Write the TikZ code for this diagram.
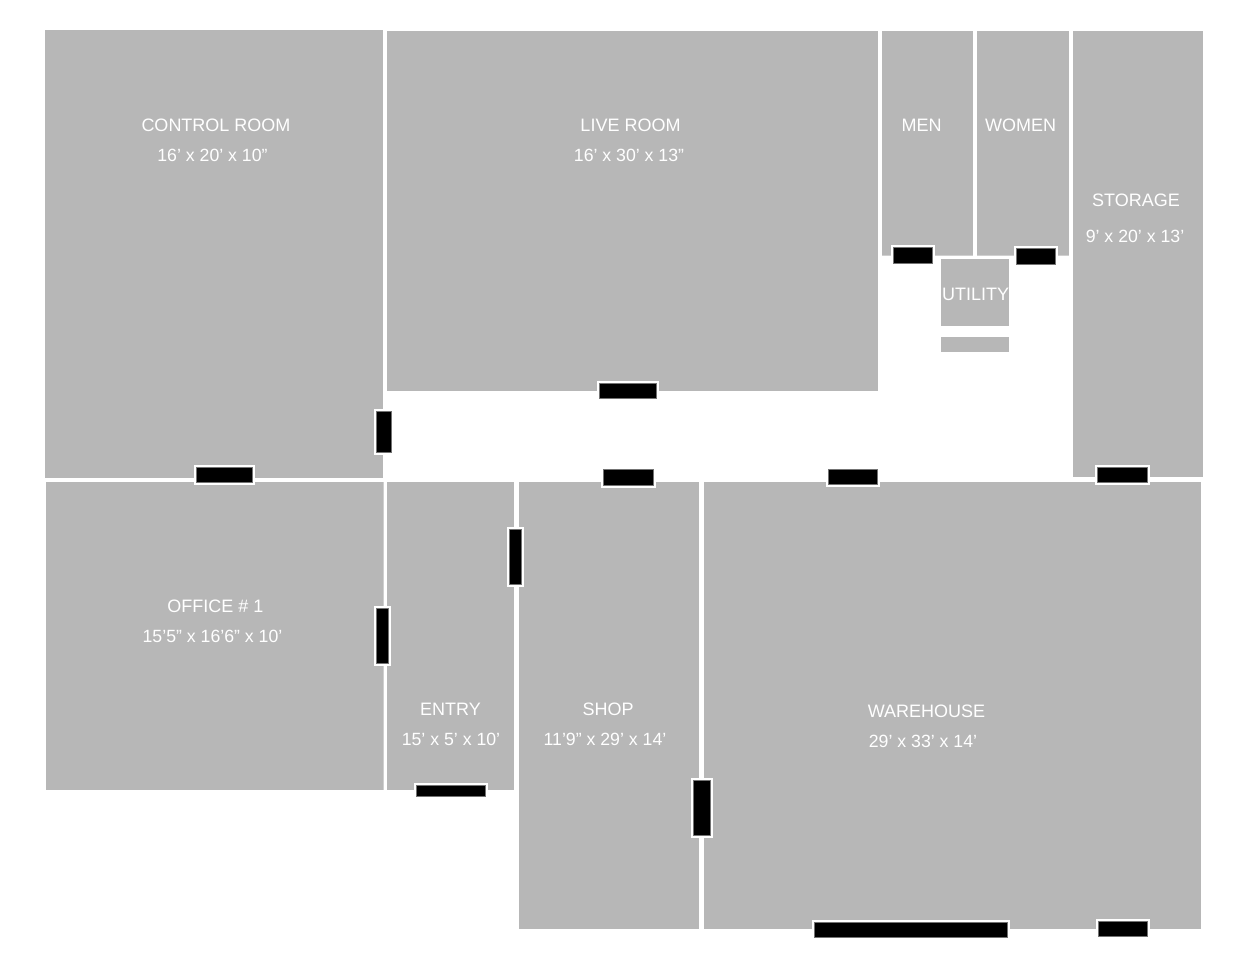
\documentclass[tikz,border=0pt]{standalone}
\usepackage{fontspec}
\setmainfont{Liberation Sans}
\definecolor{roomgray}{HTML}{B7B7B7}
\definecolor{seamgray}{HTML}{CFCFCF}
\tikzset{
  roomfill/.style={fill=roomgray,draw=none},
  seamfill/.style={fill=seamgray,draw=none},
  doorhalo/.style={fill=white,draw=none},
  doorbar/.style={fill=black,draw=black!55,line width=0.5pt},
  lbl/.style={text=white,font=\fontsize{18}{20}\selectfont,anchor=base,inner sep=0pt},
  dim/.style={text=white,font=\fontsize{17.7}{20}\selectfont,anchor=base,inner sep=0pt}
}
\newcommand{\doorbox}[4]{%
  \fill[doorhalo] (#1-3,#2-2.8) rectangle (#3+2,#4+2);
  \filldraw[doorbar] (#1-0.5,#2-0.4) rectangle (#3-0.5,#4-0.4);}
\begin{document}
\begin{tikzpicture}[x=1pt,y=-1pt]
\useasboundingbox (0,0) rectangle (1250,969);
\fill[white] (0,0) rectangle (1250,969);
% rooms
\fill[roomfill] (45,30) rectangle (383,478);
\fill[roomfill] (387,31) rectangle (878,391);
\fill[roomfill] (882,31) rectangle (973,256);
\fill[roomfill] (977,31) rectangle (1069,256);
\fill[roomfill] (1073,31) rectangle (1203,477);
\fill[roomfill] (941,259) rectangle (1009,326);
\fill[roomfill] (941,337) rectangle (1009,352);
\fill[roomfill] (46,482) rectangle (382.5,790);
\fill[seamfill] (382.5,482) rectangle (384,790);
\fill[roomfill] (387,482) rectangle (514,790);
\fill[roomfill] (519,482) rectangle (699,929);
\fill[roomfill] (704,482) rectangle (1201,929);
\fill[seamfill] (882,254.5) rectangle (973,256);
\fill[seamfill] (977,254.5) rectangle (1069,256);
% doors
\doorbox{197}{468}{253}{483}
\doorbox{377}{412}{392}{453}
\doorbox{600}{383.5}{657}{398.5}
\doorbox{604}{470}{654}{486}
\doorbox{829}{469.5}{878}{485}
\doorbox{1098}{467.5}{1148}{483}
\doorbox{894}{248}{933}{264}
\doorbox{1017}{249}{1056}{265}
\doorbox{376.5}{609}{389}{664}
\doorbox{509.5}{530}{522}{585}
\doorbox{417}{785.5}{486}{797}
\doorbox{693.5}{780.5}{711}{836}
\doorbox{814.5}{922.5}{1008}{938}
\doorbox{1098.5}{921.5}{1148}{937}
% labels
\node[lbl] (controlname) at (216,131) {CONTROL ROOM};
\node[dim] (controlsize) at (212.5,161) {16’ x 20’ x 10”};
\node[lbl] (livename) at (630.5,131) {LIVE ROOM};
\node[dim] (livesize) at (629,161) {16’ x 30’ x 13”};
\node[lbl] (menname) at (921.5,131) {MEN};
\node[lbl] (womenname) at (1020.5,131) {WOMEN};
\node[lbl] (storagename) at (1136,206) {STORAGE};
\node[dim] (storagesize) at (1135,242) {9’ x 20’ x 13’};
\node[lbl] (utilityname) at (975.5,300) {UTILITY};
\node[lbl] (officename) at (215.5,612) {OFFICE \# 1};
\node[dim] (officesize) at (212.5,642) {15’5” x 16’6” x 10’};
\node[lbl] (entryname) at (450.5,715) {ENTRY};
\node[dim] (entrysize) at (451,745) {15’ x 5’ x 10’};
\node[lbl] (shopname) at (608,715) {SHOP};
\node[dim] (shopsize) at (605,745) {11’9” x 29’ x 14’};
\node[lbl] (warename) at (926.5,717) {WAREHOUSE};
\node[dim] (waresize) at (923,747) {29’ x 33’ x 14’};
\end{tikzpicture}
\end{document}
